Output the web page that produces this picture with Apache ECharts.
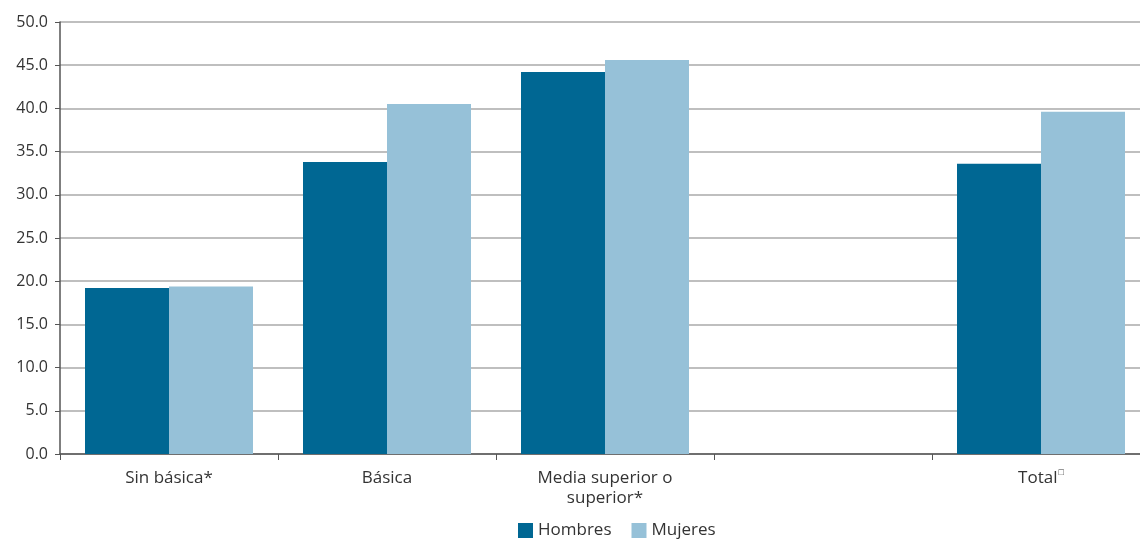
<!DOCTYPE html>
<html>
<head>
<meta charset="utf-8">
<script src="https://cdn.jsdelivr.net/npm/echarts@6/dist/echarts.min.js"></script>
<style>
html,body{margin:0;padding:0;background:#fff;overflow:hidden;width:1140px;height:543px;}
#chart{width:1150px;height:543px;}
</style>
</head>
<body>
<div id="chart"></div>
<script>
const categories = ["Sin básica*", "Básica", "Media superior o\nsuperior*", "", "Total"];
const hombres = [19.2, 33.8, 44.2, null, 33.6];
const mujeres = [19.4, 40.5, 45.6, null, 39.6];
const seriesNames = ["Hombres", "Mujeres"];

const chart = echarts.init(document.getElementById('chart'));
const font = "'Open Sans', sans-serif";
chart.setOption({
  animation: false,
  textStyle: {fontFamily: font},
  grid: {left: 60, top: 22, right: 0, height: 432, containLabel: false},
  legend: {
    bottom: -1, left: 513,
    itemWidth: 15, itemHeight: 15, itemGap: 20,
    icon: 'rect',
    textStyle: {fontSize: 17, color: '#333', fontFamily: font},
    data: seriesNames
  },
  xAxis: {
    type: 'category',
    data: categories,
    axisLine: {lineStyle: {color: '#555', width: 1.5}},
    axisTick: {show: true, length: 6, lineStyle: {color: '#555'}},
    axisLabel: {
      fontSize: 17, color: '#333', margin: 14, lineHeight: 20, interval: 0,
      formatter: function (v) { return v === 'Total' ? '{a|Total}{s|□}' : v; },
      rich: {a: {fontSize: 17, color: '#333', fontFamily: font}, s: {fontSize: 9, color: '#333', verticalAlign: 'top', padding: [0,0,6,1]}}
    }
  },
  yAxis: {
    type: 'value', min: 0, max: 50, interval: 5,
    axisLine: {show: true, lineStyle: {color: '#555', width: 1.5}},
    axisTick: {show: true, length: 5, lineStyle: {color: '#555'}},
    splitLine: {lineStyle: {color: '#aaa', width: 1.5}},
    axisLabel: {fontSize: 16, color: '#333', margin: 12, formatter: v => v.toFixed(1)}
  },
  series: [
    {name: seriesNames[0], type: 'bar', data: hombres, barWidth: 84, barGap: '0%', itemStyle: {color: '#006793'}},
    {name: seriesNames[1], type: 'bar', data: mujeres, barWidth: 84, barGap: '0%', itemStyle: {color: '#96c1d8'}}
  ]
});
</script>
</body>
</html>
